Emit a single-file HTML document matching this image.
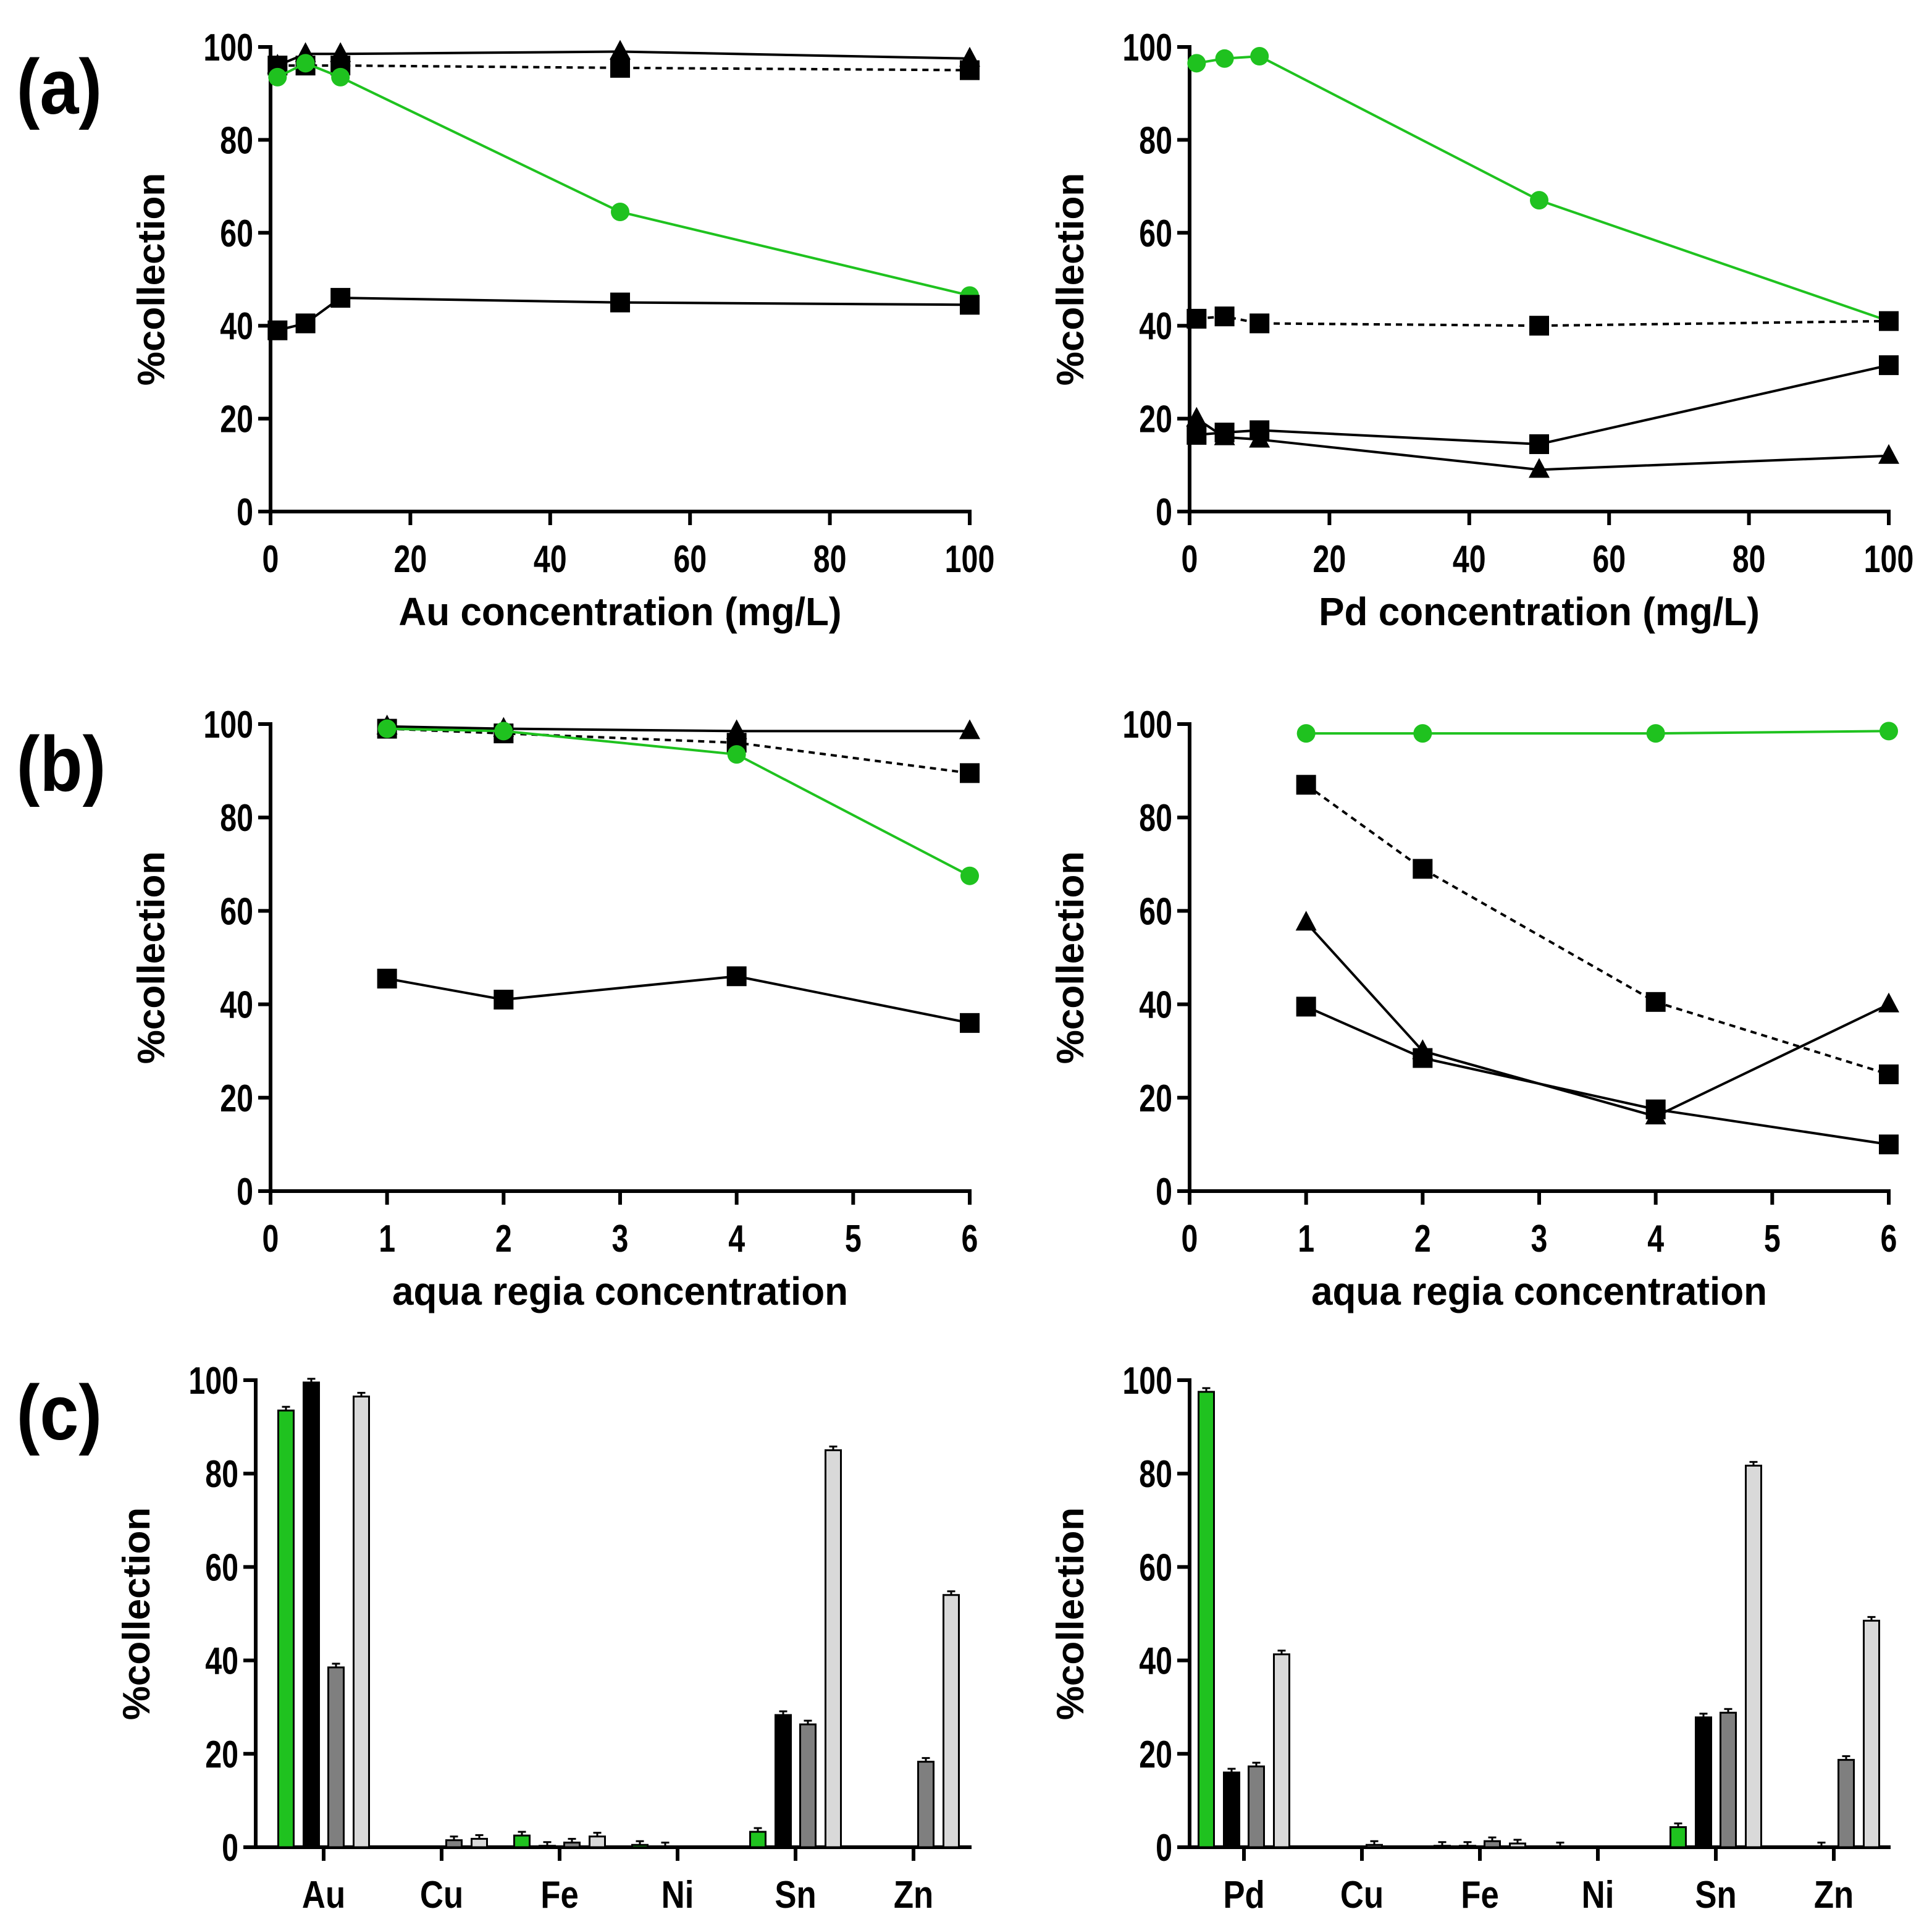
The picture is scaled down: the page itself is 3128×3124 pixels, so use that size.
<!DOCTYPE html>
<html><head><meta charset="utf-8">
<style>
html,body{margin:0;padding:0;background:#fff;}
svg{display:block;}
text{font-family:"Liberation Sans",sans-serif;font-weight:bold;fill:#000;}
.panel{font-family:"Liberation Sans",sans-serif;font-weight:bold;}
</style></head>
<body>
<svg id="fig" xmlns="http://www.w3.org/2000/svg" width="3128" height="3124" viewBox="0 0 3128 3124">
<rect width="3128" height="3124" fill="#fff"/>
<text class="panel" x="14" y="184" font-size="126" transform="translate(14,0) scale(0.9,1)">(a)</text>
<text class="panel" x="14" y="1280" font-size="126" transform="translate(14,0) scale(0.9,1)">(b)</text>
<text class="panel" x="14" y="2330" font-size="126" transform="translate(14,0) scale(0.9,1)">(c)</text>
</svg>
<script>
// ---- data ----
const xConc = [1, 5, 10, 50, 100];
const auTri = [96, 98.5, 98.5, 99, 97.5];
const auDash = [96, 96, 96, 95.5, 95];
const auGreen = [93.5, 96.5, 93.5, 64.5, 46.5];
const auSq = [39, 40.5, 46, 45, 44.5];
const pdGreen = [96.5, 97.5, 98, 67, 41];
const pdDash = [41.5, 42, 40.5, 40, 41];
const pdSq = [16.5, 17, 17.5, 14.5, 31.5];
const pdTri = [20, 16, 15.5, 9, 12];
const xAqua = [1, 2, 4, 6];
const bLTri = [99.5, 99, 98.5, 98.5];
const bLDash = [99, 98, 96, 89.5];
const bLGreen = [99, 98.5, 93.5, 67.5];
const bLSq = [45.5, 41, 46, 36];
const bRGreen = [98, 98, 98, 98.5];
const bRDash = [87, 69, 40.5, 25];
const bRTri = [57.5, 30, 16, 40];
const bRSq = [39.5, 28.5, 17.5, 10];
const catsL = ["Au", "Cu", "Fe", "Ni", "Sn", "Zn"];
const catsR = ["Pd", "Cu", "Fe", "Ni", "Sn", "Zn"];
const cLGreen = [93.5, 0, 2.5, 0.5, 3.3, 0];
const cLBlack = [99.5, 0, 0.3, 0.2, 28.3, 0];
const cLDark = [38.5, 1.5, 1, 0, 26.3, 18.3];
const cLLight = [96.5, 1.8, 2.3, 0, 85, 54];
const cRGreen = [97.5, 0, 0.3, 0.2, 4.3, 0];
const cRBlack = [16, 0, 0.3, 0, 27.8, 0.2];
const cRDark = [17.3, 0.5, 1.3, 0, 28.8, 18.7];
const cRLight = [41.3, 0, 0.8, 0, 81.7, 48.5];
const yTicks = [0, 20, 40, 60, 80, 100];
const xTicksConc = [0, 20, 40, 60, 80, 100];
const xTicksAqua = [0, 1, 2, 3, 4, 5, 6];

const NS = "http://www.w3.org/2000/svg";
const svg = document.getElementById("fig");
function mk(tag, attrs, parent) {
  const e = document.createElementNS(NS, tag);
  for (const k in attrs) e.setAttribute(k, attrs[k]);
  (parent || svg).appendChild(e);
  return e;
}
const GREEN = "#1fc21f";
function ctext(parent, x, y, size, anchor, str, sx) {
  const t = mk("text", {x: 0, y: 0, "font-size": size, "text-anchor": anchor,
    transform: `translate(${x},${y}) scale(${sx || 0.78},1)`}, parent);
  t.textContent = str;
  return t;
}

function axes(p, xticks, xlabel, name) {
  const g = mk("g", {});
  
  
  mk("line", {x1: p.x0, y1: p.y0 + 3, x2: p.x0, y2: p.y1 - 3, stroke: "#000", "stroke-width": 6}, g);
  mk("line", {x1: p.x0 - 3, y1: p.y0, x2: p.x1 + 3, y2: p.y0, stroke: "#000", "stroke-width": 6}, g);
  yTicks.forEach(v => {
    const y = p.sy(v);
    mk("line", {x1: p.x0 - 20, y1: y, x2: p.x0, y2: y, stroke: "#000", "stroke-width": 6}, g);
    const t = ctext(g, p.x0 - 28, y + 22, 62, "end", v);
    
    
  });
  if (xticks) xticks.forEach(v => {
    const x = p.sx(v);
    mk("line", {x1: x, y1: p.y0, x2: x, y2: p.y0 + 22, stroke: "#000", "stroke-width": 6}, g);
    const t = ctext(g, x, p.y0 + 98, 62, "middle", v);
    
    
  });
  const yl = mk("text", {x: 0, y: 0, "font-size": 62, "text-anchor": "middle",
    transform: `translate(${p.x0 - 172},${(p.y0 + p.y1) / 2}) rotate(-90)`}, g);
  yl.textContent = "%collection";
  
  
  if (xlabel) {
    const xl = ctext(g, (p.x0 + p.x1) / 2, p.y0 + 184, 64, "middle", xlabel, 0.97);
    
    
  }
  return g;
}

function series(p, xs, ys, marker, color, dashed, name) {
  const g = mk("g", {});
  
  
  const pts = xs.map((x, i) => p.sx(x) + "," + p.sy(ys[i])).join(" ");
  const attrs = {points: pts, fill: "none", stroke: color, "stroke-width": 4};
  if (dashed) attrs["stroke-dasharray"] = "10,8";
  mk("polyline", attrs, g);
  xs.forEach((x, i) => {
    const cx = p.sx(x), cy = p.sy(ys[i]);
    let m;
    if (marker === "sq") m = mk("rect", {x: cx - 16, y: cy - 16, width: 32, height: 32, fill: color}, g);
    else if (marker === "tri") m = mk("polygon", {points: `${cx},${cy - 19} ${cx - 17},${cy + 13} ${cx + 17},${cy + 13}`, fill: color}, g);
    else m = mk("circle", {cx: cx, cy: cy, r: 15, fill: color}, g);
    
    
  });
}

function lin(a0, a1, p0, p1) { return v => p0 + (v - a0) / (a1 - a0) * (p1 - p0); }
function panel(x0, x1, y0, y1, dmax) {
  return {x0, x1, y0, y1, sx: lin(0, dmax, x0, x1), sy: lin(0, 100, y0, y1)};
}

// (a)
const pAL = panel(438, 1570, 828, 76, 100);
axes(pAL, xTicksConc, "Au concentration (mg/L)", "chart-au-concentration");
series(pAL, xConc, auTri, "tri", "#000", false, "series-triangle");
series(pAL, xConc, auDash, "sq", "#000", true, "series-dashed-square");
series(pAL, xConc, auGreen, "circ", GREEN, false, "series-green-circle");
series(pAL, xConc, auSq, "sq", "#000", false, "series-square");
const pAR = panel(1926, 3058, 828, 76, 100);
axes(pAR, xTicksConc, "Pd concentration (mg/L)", "chart-pd-concentration");
series(pAR, xConc, pdGreen, "circ", GREEN, false, "series-green-circle");
series(pAR, xConc, pdDash, "sq", "#000", true, "series-dashed-square");
series(pAR, xConc, pdSq, "sq", "#000", false, "series-square");
series(pAR, xConc, pdTri, "tri", "#000", false, "series-triangle");

// (b)
const pBL = panel(438, 1570, 1928, 1172, 6);
axes(pBL, xTicksAqua, "aqua regia concentration", "chart-aqua-regia-au");
series(pBL, xAqua, bLTri, "tri", "#000", false, "series-triangle");
series(pBL, xAqua, bLDash, "sq", "#000", true, "series-dashed-square");
series(pBL, xAqua, bLGreen, "circ", GREEN, false, "series-green-circle");
series(pBL, xAqua, bLSq, "sq", "#000", false, "series-square");
const pBR = panel(1926, 3058, 1928, 1172, 6);
axes(pBR, xTicksAqua, "aqua regia concentration", "chart-aqua-regia-pd");
series(pBR, xAqua, bRGreen, "circ", GREEN, false, "series-green-circle");
series(pBR, xAqua, bRDash, "sq", "#000", true, "series-dashed-square");
series(pBR, xAqua, bRTri, "tri", "#000", false, "series-triangle");
series(pBR, xAqua, bRSq, "sq", "#000", false, "series-square");

// (c)
function bars(x0, x1, firstTick, cats, sets, name) {
  const p = {x0, x1, y0: 2990, y1: 2234, sy: lin(0, 100, 2990, 2234)};
  axes(p, null, null, name);
  const fills = [GREEN, "#000", "#7f7f7f", "#d9d9d9"];
  const offs = [-61, -20, 20, 61];
  cats.forEach((c, i) => {
    const cx = firstTick + i * 191;
    mk("line", {x1: cx, y1: p.y0, x2: cx, y2: p.y0 + 22, stroke: "#000", "stroke-width": 6});
    const t = ctext(svg, cx, p.y0 + 98, 62, "middle", c, 0.85);
    
    
    sets.forEach((s, k) => {
      const v = s[i];
      if (v <= 0) return;
      const y = p.sy(v);
      const bx = cx + offs[k] - 12.5;
      mk("line", {x1: bx + 12.5, y1: y, x2: bx + 12.5, y2: y - 6, stroke: "#000", "stroke-width": 3});
      mk("line", {x1: bx + 6, y1: y - 6, x2: bx + 19, y2: y - 6, stroke: "#000", "stroke-width": 3});
      const r = mk("rect", {x: bx, y: y, width: 25, height: Math.max(p.y0 - y, 0.5), fill: fills[k], stroke: "#000", "stroke-width": 3});
      
      
    });
  });
}
bars(414, 1570, 524, catsL, [cLGreen, cLBlack, cLDark, cLLight], "chart-bars-au");
bars(1926, 3058, 2014, catsR, [cRGreen, cRBlack, cRDark, cRLight], "chart-bars-pd");
</script>
</body></html>
